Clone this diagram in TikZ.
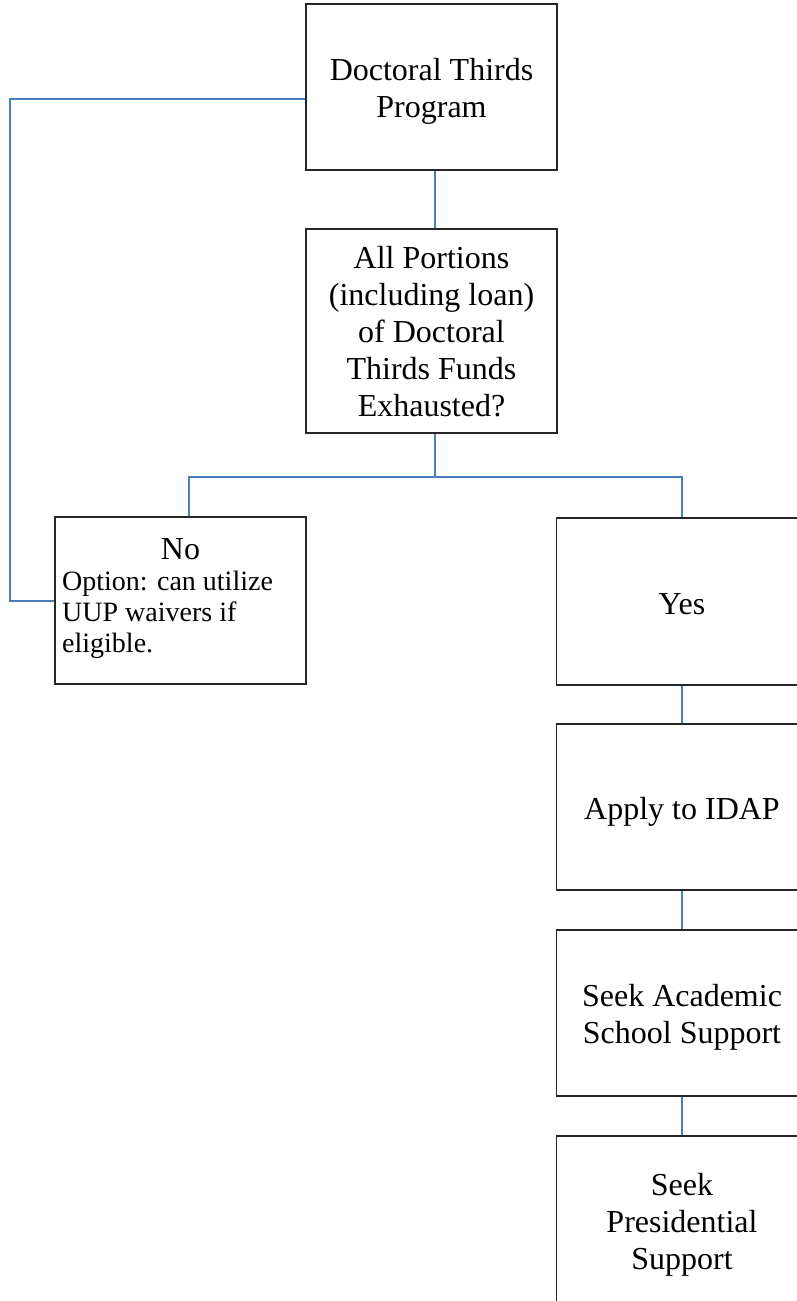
\documentclass[tikz,border=0pt]{standalone}
\usepackage{fontspec}
\setmainfont{Liberation Serif}
\definecolor{conn}{RGB}{74,126,187}
\newcommand{\lowertext}[2][4.5pt]{\raisebox{-#1}[\height][\depth]{\begin{tabular}{@{}c@{}}#2\end{tabular}}}
\tikzset{
  box/.style={draw=black!85, line width=1.5pt, minimum width=251pt, inner sep=0pt, align=center,
    font=\fontsize{32pt}{37pt}\selectfont},
  bigtext/.style={inner sep=0pt, font=\fontsize{32pt}{37pt}\selectfont},
  smalltext/.style={inner sep=0pt, align=left, font=\fontsize{28pt}{31pt}\selectfont},
  link/.style={draw=conn, line width=2pt},
}
\begin{document}
\begin{tikzpicture}[x=1pt,y=-1pt]
\useasboundingbox (0,0) rectangle (797,1301);
\clip (0,0) rectangle (797,1301);
\node[box, minimum height=166pt] (top) at (431.5,87) {\lowertext{Doctoral Thirds\\Program}};
\node[box, minimum height=204pt] (q) at (431.5,331) {\lowertext[4.5pt]{All Portions\\(including loan)\\of Doctoral\\Thirds Funds\\Exhausted?}};
\node[box, minimum height=167pt] (no) at (180.5,600.5) {};
\node[bigtext] (noT) at (180.5,549) {No};
\node[smalltext, anchor=north west] (noOpt) at (62,570.5) {Option: can utilize\\UUP waivers if\\eligible.};
\node[box, minimum height=167pt] (yes) at (682,601.5) {\lowertext[6pt]{Yes}};
\node[box, minimum height=166pt] (idap) at (682,807) {\lowertext[5pt]{Apply to IDAP}};
\node[box, minimum height=166pt] (acad) at (682,1013) {\lowertext[4.5pt]{Seek Academic\\School Support}};
\node[box, minimum height=170pt] (pres) at (682,1221) {\lowertext[4pt]{Seek\\Presidential\\Support}};
% connectors
\coordinate (c1) at (435,0);
\coordinate (split) at (435,477);
\coordinate (loop) at (10,99);
\coordinate (noX) at (189,0);
\draw[link] (top.south -| c1) -- (q.north -| c1);
\draw[link] (q.south -| c1) -- (split);
\draw[link] (split) -| (no.north -| noX);
\draw[link] (split) -| (yes.north);
\draw[link] (top.west |- loop) -- (loop) |- (no.west);
\draw[link] (yes.south) -- (idap.north);
\draw[link] (idap.south) -- (acad.north);
\draw[link] (acad.south) -- (pres.north);
\end{tikzpicture}
\end{document}
